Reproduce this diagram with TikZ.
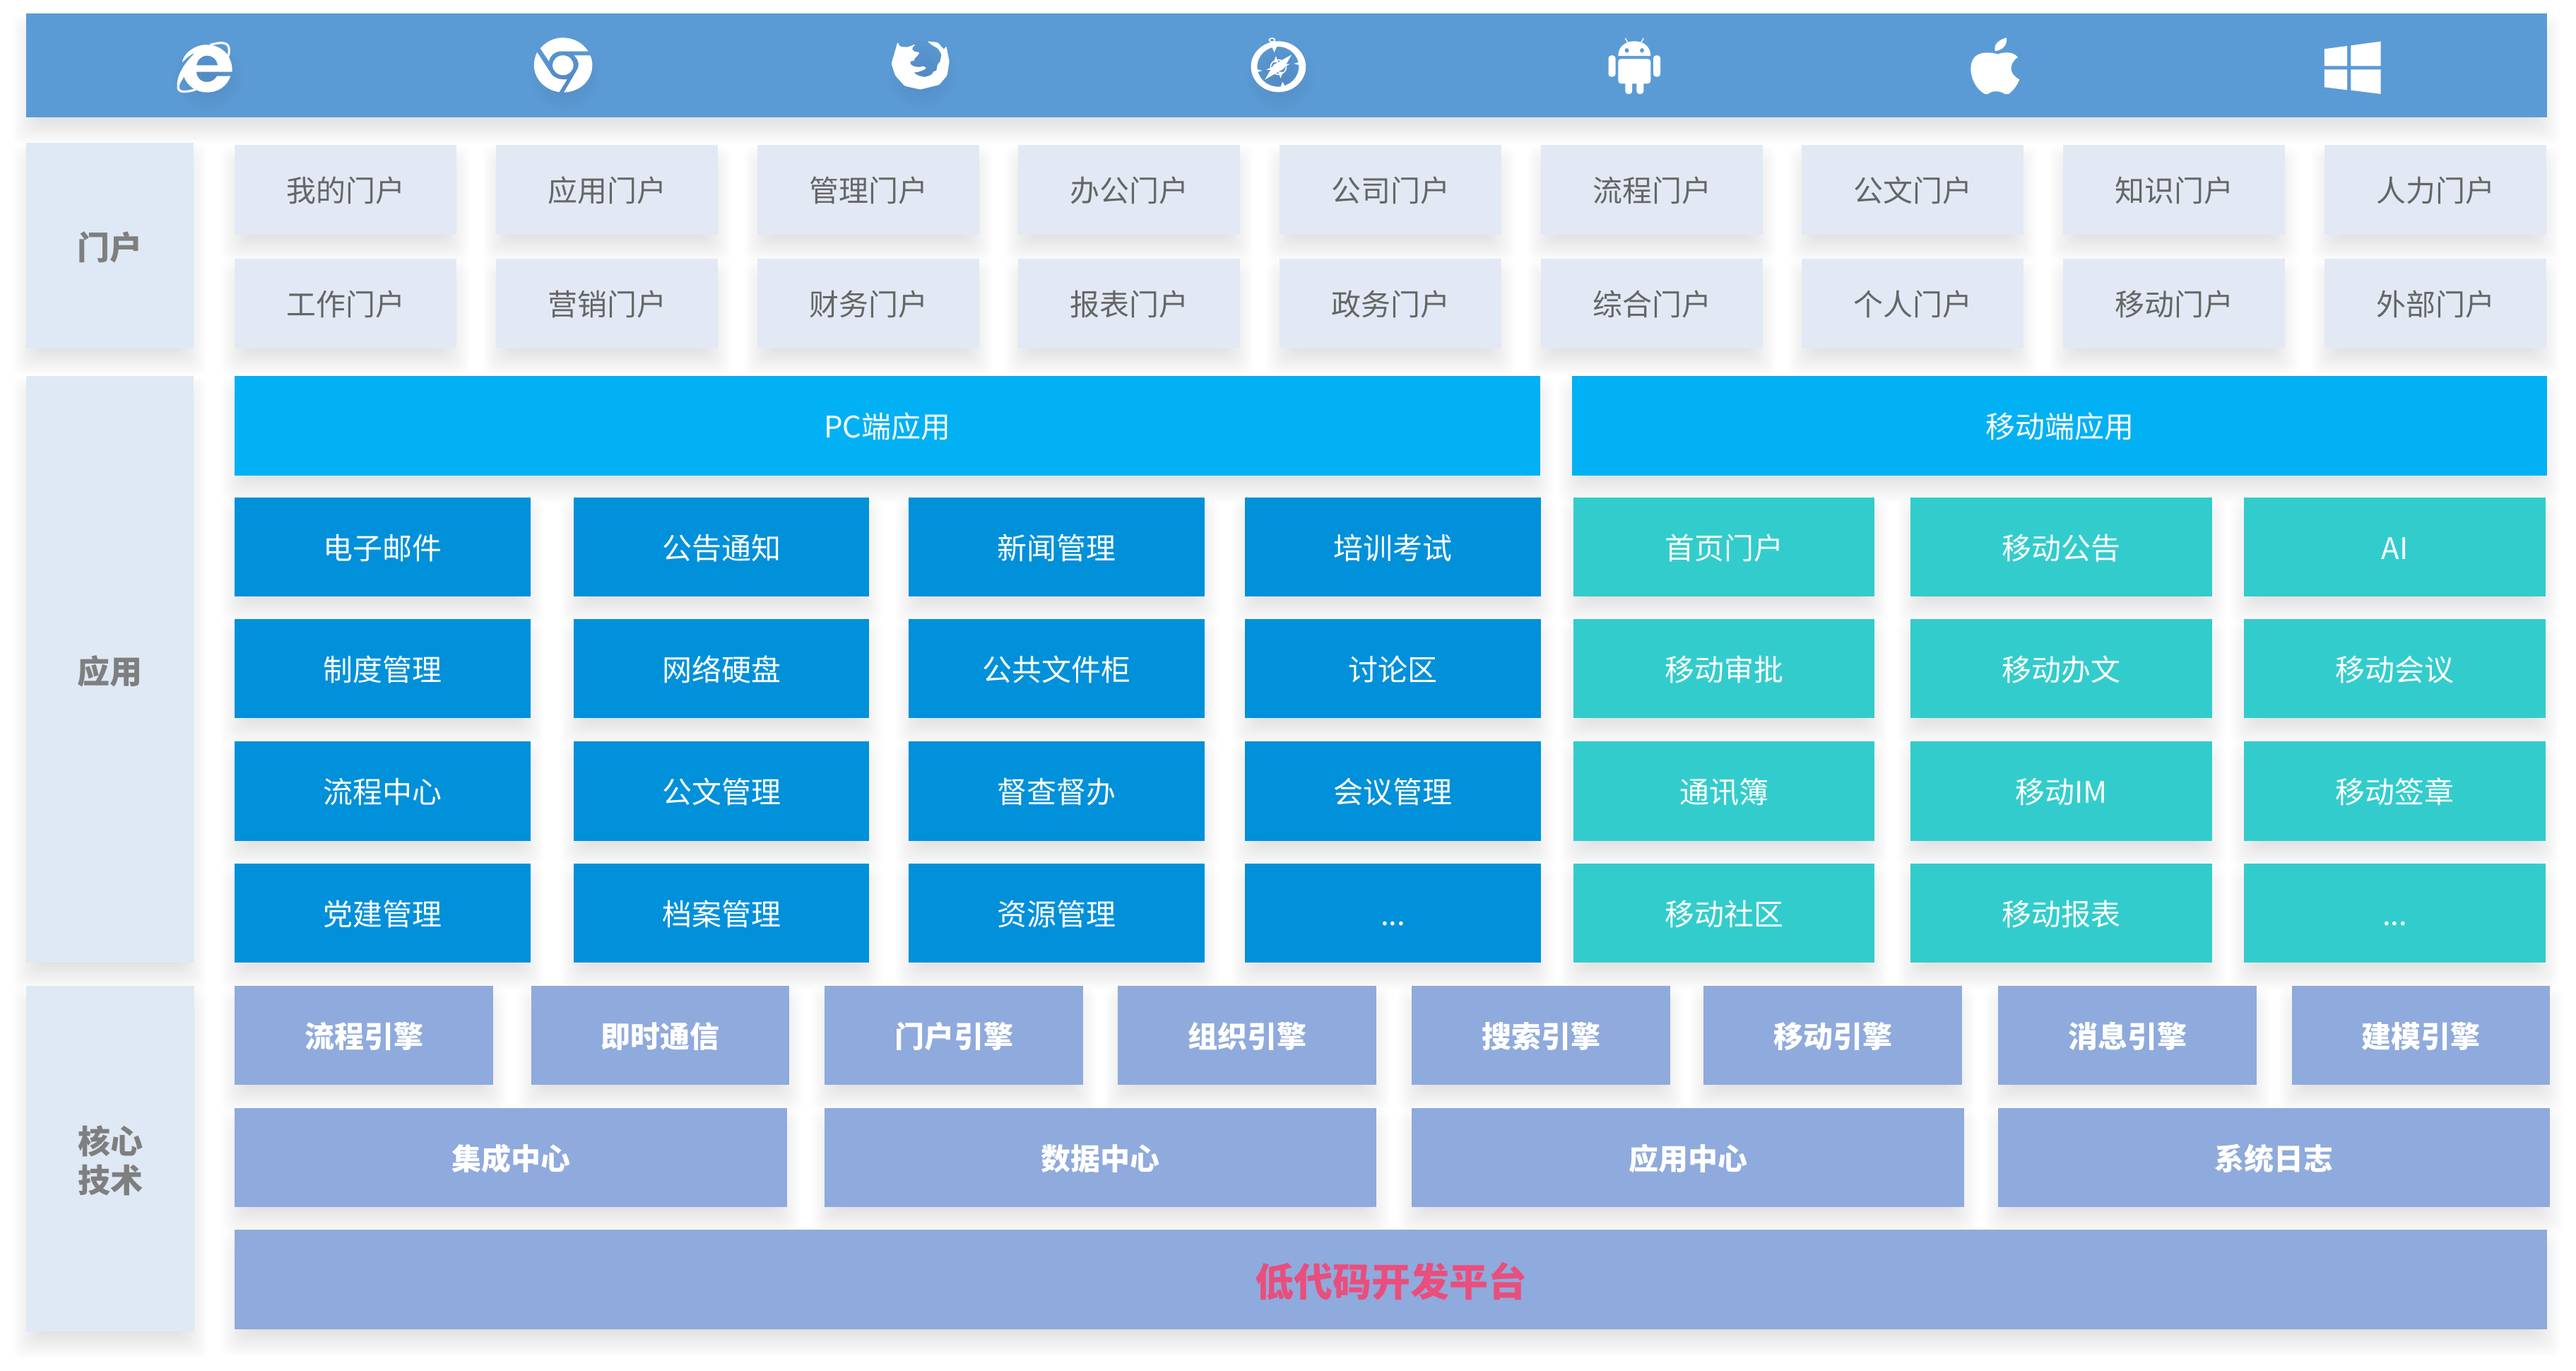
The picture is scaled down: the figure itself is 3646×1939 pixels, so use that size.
\documentclass[tikz,border=0pt]{standalone}
\usepackage{fontspec}
\setmainfont{Noto Sans CJK SC}
\definecolor{barblue}{HTML}{5B9BD5}
\definecolor{sidec}{HTML}{DEE9F5}
\definecolor{portalc}{HTML}{E2E9F5}
\definecolor{headc}{HTML}{02B1F4}
\definecolor{pcc}{HTML}{0190DA}
\definecolor{tealc}{HTML}{33CCCC}
\definecolor{corec}{HTML}{8FAADC}
\definecolor{pinkc}{HTML}{EA4E7C}
\definecolor{txtgray}{HTML}{666666}
\definecolor{sidetxt}{HTML}{7F7F7F}
\newcommand{\threedots}{...}
\tikzset{
  boxbase/.style={draw=none,inner sep=0pt,outer sep=0pt,anchor=center,align=center},
  sidebox/.style={boxbase,fill=sidec,text=sidetxt,font=\fontsize{23pt}{27.5pt}\selectfont\bfseries},
  portalbox/.style={boxbase,fill=portalc,text=txtgray,font=\fontsize{21pt}{24pt}\selectfont,text height=20pt,text depth=3pt},
  headbox/.style={boxbase,fill=headc,text=white,font=\fontsize{21pt}{24pt}\selectfont,text height=20pt,text depth=3pt},
  pcbox/.style={boxbase,fill=pcc,text=white,font=\fontsize{21pt}{24pt}\selectfont,text height=20pt,text depth=3pt},
  mobbox/.style={boxbase,fill=tealc,text=white,font=\fontsize{21pt}{24pt}\selectfont,text height=20pt,text depth=3pt},
  corebox/.style={boxbase,fill=corec,text=white,font=\fontsize{21pt}{24pt}\selectfont\bfseries,text height=20pt,text depth=3pt},
  lowbox/.style={boxbase,fill=corec,text=pinkc,font=\fontsize{27.5pt}{32pt}\selectfont\bfseries,text height=27.5pt,text depth=4pt},
  topbar/.style={boxbase,fill=barblue},
  icon/.style={fill=white,draw=none},
  iconhole/.style={fill=barblue,draw=none},
  iconz/.style={x=0.2232pt,y=-0.16667pt},
  iconw/.style={x=0.3827pt,y=-0.16667pt},
}
% name, x0, y0, x1, y1, style, text
\newcommand{\bx}[7]{%
  \foreach \e in {-18,-14,...,18}{%
    \fill[black,opacity=0.011,rounded corners=6pt] ({#2-\e},{#3+20-\e}) rectangle ({#4+\e},{#5+20+\e});
  }%
  \pgfmathsetlengthmacro{\bw}{(#4-#2)*0.5pt}%
  \pgfmathsetlengthmacro{\bh}{(#5-#3)*0.5pt}%
  \node[#6,minimum width=\bw,minimum height=\bh] (#1) at ({(#2+#4)/2},{(#3+#5)/2}) {#7};
}
% soft shadow under an icon
\newcommand{\icsh}[2]{%
  \foreach \r in {10,16,...,52}{%
    \fill[black,opacity=0.007] (#1,#2) ellipse [x radius=\r,y radius=\r];
  }%
}
\begin{document}
\begin{tikzpicture}[x=0.5pt,y=-0.5pt]
\useasboundingbox (0,0) rectangle (3646,1939);
\fill[white] (0,0) rectangle (3646,1939);

% top bar
\bx{bar}{37}{19}{3605}{166}{topbar}{}
\icsh{295}{108}\icsh{800}{108}\icsh{1305}{105}\icsh{1812}{108}

% IE
\begin{scope}[shift={(200,20)},iconz]
  \fill[icon,even odd rule] (288,245)
    .. controls (290,190) and (265,130) .. (205,130)
    .. controls (165,130) and (130,175) .. (130,205)
    .. controls (145,185) and (155,172) .. (170,165)
    .. controls (135,210) and (115,255) .. (113,300)
    .. controls (125,290) and (130,280) .. (135,265)
    .. controls (145,305) and (175,332) .. (208,332)
    .. controls (245,332) and (272,305) .. (283,263)
    -- (240,263)
    .. controls (232,280) and (222,288) .. (208,288)
    .. controls (188,288) and (175,268) .. (175,245)
    -- cycle
    (175,217) .. controls (178,192) and (192,176) .. (208,176)
    .. controls (226,176) and (240,192) .. (242,217) -- cycle;
  \draw[white,line width=1.6pt] (218,131) .. controls (250,118) and (272,118) .. (277,140) .. controls (280,155) and (278,168) .. (275,180);
  \draw[white,line width=1.6pt] (128,272) .. controls (112,305) and (112,328) .. (135,329) .. controls (148,329) and (160,325) .. (172,320);
\end{scope}

% Chrome
\begin{scope}[shift={(200,20)},iconz]
  \fill[icon] (1265,145) .. controls (1285,115) and (1310,100) .. (1337,100)
     .. controls (1370,100) and (1400,122) .. (1417,158)
     -- (1325,158) .. controls (1310,160) and (1295,178) .. (1292,200) -- cycle;
  \fill[icon] (1255,162) .. controls (1248,180) and (1245,200) .. (1245,216)
     .. controls (1245,275) and (1280,322) .. (1325,331)
     -- (1350,277) .. controls (1325,280) and (1305,268) .. (1298,250) -- cycle;
  \fill[icon] (1340,332) .. controls (1392,330) and (1430,280) .. (1430,216)
     .. controls (1430,202) and (1428,188) .. (1423,175)
     -- (1372,175) .. controls (1388,195) and (1390,220) .. (1380,240) -- cycle;
  \fill[icon] (1337,217) ellipse [x radius=33,y radius=42];
\end{scope}

% Firefox
\begin{scope}[shift={(1200,20)},iconz]
  \fill[icon,rounded corners=0.8pt] (158,118) -- (165,138) -- (190,140) -- (215,127) -- (203,145) -- (208,158)
    -- (228,162) -- (222,175) -- (210,190) -- (212,200) -- (200,197) -- (197,210) -- (208,222) -- (228,225)
    -- (240,220) -- (250,230) -- (235,240) -- (225,245) -- (208,248) -- (225,262) -- (245,267) -- (265,258)
    -- (275,238) -- (280,245) -- (285,210) -- (292,205) -- (297,170) -- (285,145) -- (265,130) -- (252,115)
    -- (285,120) -- (305,150) -- (312,135) -- (322,200) -- (315,260) -- (290,300) -- (230,320) -- (180,305)
    -- (150,260) -- (138,210) -- (150,155) -- cycle;
\end{scope}

% Compass
\begin{scope}[shift={(1200,20)},iconz]
  \fill[icon,even odd rule] (1365,223) ellipse [x radius=87,y radius=108]
     (1364,223) ellipse [x radius=66,y radius=85];
  \draw[white,line width=0.8pt] (1345,110) ellipse [x radius=9,y radius=8];
  \fill[icon] (1407,172) -- (1382,232) -- (1322,278) -- (1350,215) -- cycle;
  \fill[icon] (1344,138) -- (1360,138) -- (1352,162) -- cycle;
  \fill[icon] (1372,310) -- (1388,310) -- (1378,287) -- cycle;
  \fill[icon] (1298,234) -- (1298,246) -- (1314,240) -- cycle;
  \fill[icon] (1430,204) -- (1430,216) -- (1414,210) -- cycle;
  \fill[icon] (1357,178) -- (1365,205) -- (1350,205) -- cycle;
  \fill[icon] (1372,272) -- (1364,245) -- (1380,245) -- cycle;
  \fill[icon] (1326,236) -- (1350,222) -- (1352,238) -- cycle;
  \fill[icon] (1402,212) -- (1378,228) -- (1376,212) -- cycle;
  \draw[white,line width=0.8pt] (1365,225) ellipse [x radius=25,y radius=31];
\end{scope}

% Android
\begin{scope}[shift={(2200,20)},iconw]
  \fill[icon,even odd rule] (118,177) .. controls (118,140) and (130,115) .. (148,115)
     .. controls (166,115) and (178,140) .. (178,177) -- cycle
     (134,154) ellipse [x radius=4,y radius=10]
     (162,154) ellipse [x radius=4,y radius=10];
  \draw[white,line width=0.7pt] (131,102) -- (136,122) (165,102) -- (160,122);
  \fill[icon,rounded corners=2pt] (118,190) rectangle (178,295);
  \fill[icon,rounded corners=2pt] (100,175) rectangle (113,266);
  \fill[icon,rounded corners=2pt] (183,175) rectangle (196,266);
  \fill[icon,rounded corners=2pt] (131,280) rectangle (144,339);
  \fill[icon,rounded corners=2pt] (152,280) rectangle (165,339);
\end{scope}

% Apple
\begin{scope}[shift={(2200,20)},iconw]
  \fill[icon] (836,100) .. controls (838,130) and (830,152) .. (815,157)
     .. controls (812,130) and (820,110) .. (836,100) -- cycle;
  \fill[icon] (820,170) .. controls (805,160) and (770,150) .. (770,232)
     .. controls (770,280) and (782,322) .. (796,339)
     -- (802,339) .. controls (808,326) and (822,322) .. (833,339)
     -- (840,339) .. controls (850,322) and (856,300) .. (860,277)
     .. controls (840,255) and (840,210) .. (857,183)
     .. controls (848,158) and (832,160) .. (820,170) -- cycle;
\end{scope}

% Windows
\begin{scope}[shift={(2200,20)},iconw]
  \fill[icon] (1424,148) -- (1466,135) -- (1466,220) -- (1424,220) -- cycle;
  \fill[icon] (1473,133) -- (1528,116) -- (1528,220) -- (1473,220) -- cycle;
  \fill[icon] (1424,235) -- (1466,235) -- (1466,322) -- (1424,310) -- cycle;
  \fill[icon] (1473,235) -- (1528,235) -- (1528,339) -- (1473,323) -- cycle;
\end{scope}

% side labels
\bx{sidea}{37}{202}{274}{493}{sidebox}{\rule{0pt}{22.5pt}门户}
\bx{sideb}{37}{532}{274}{1362}{sidebox}{\rule{0pt}{22.5pt}应用}
\bx{sidec}{37}{1395}{275}{1884}{sidebox}{\rule{0pt}{22.5pt}核心\\技术}

% portals
\foreach \n/\xa/\ta/\tb in {1/332/我的门户/工作门户,2/702/应用门户/营销门户,3/1072/管理门户/财务门户,4/1441/办公门户/报表门户,5/1811/公司门户/政务门户,6/2181/流程门户/综合门户,7/2550/公文门户/个人门户,8/2920/知识门户/移动门户,9/3290/人力门户/外部门户}{
  \pgfmathtruncatemacro{\xb}{\xa+314}
  \bx{pa\n}{\xa}{205}{\xb}{332}{portalbox}{\ta}
  \bx{pb\n}{\xa}{366}{\xb}{493}{portalbox}{\tb}
}

% headers
\bx{hpc}{332}{532}{2180}{673}{headbox}{PC端应用}
\bx{hmob}{2225}{532}{3605}{673}{headbox}{移动端应用}

% application rows
\foreach \r/\ya/\yb/\ta/\tb/\tc/\td/\te/\tf/\tg in {
  1/704/844/电子邮件/公告通知/新闻管理/培训考试/首页门户/移动公告/AI,
  2/876/1016/制度管理/网络硬盘/公共文件柜/讨论区/移动审批/移动办文/移动会议,
  3/1049/1190/流程中心/公文管理/督查督办/会议管理/通讯簿/移动IM/移动签章,
  4/1222/1362/党建管理/档案管理/资源管理/\threedots/移动社区/移动报表/\threedots}{
  \bx{a\r}{332}{\ya}{751}{\yb}{pcbox}{\ta}
  \bx{b\r}{812}{\ya}{1230}{\yb}{pcbox}{\tb}
  \bx{c\r}{1286}{\ya}{1705}{\yb}{pcbox}{\tc}
  \bx{d\r}{1762}{\ya}{2181}{\yb}{pcbox}{\td}
  \bx{e\r}{2227}{\ya}{2653}{\yb}{mobbox}{\te}
  \bx{f\r}{2704}{\ya}{3131}{\yb}{mobbox}{\tf}
  \bx{g\r}{3176}{\ya}{3603}{\yb}{mobbox}{\tg}
}

% engines
\foreach \n/\xa/\xb/\t in {1/332/698/流程引擎,2/752/1117/即时通信,3/1167/1533/门户引擎,4/1582/1948/组织引擎,5/1998/2364/搜索引擎,6/2411/2777/移动引擎,7/2828/3194/消息引擎,8/3244/3609/建模引擎}{
  \bx{en\n}{\xa}{1395}{\xb}{1535}{corebox}{\t}
}
% centres
\foreach \n/\xa/\xb/\t in {1/332/1114/集成中心,2/1167/1948/数据中心,3/1998/2780/应用中心,4/2828/3609/系统日志}{
  \bx{ce\n}{\xa}{1568}{\xb}{1708}{corebox}{\t}
}
\bx{low}{332}{1740}{3605}{1881}{lowbox}{低代码开发平台}
\end{tikzpicture}
\end{document}
